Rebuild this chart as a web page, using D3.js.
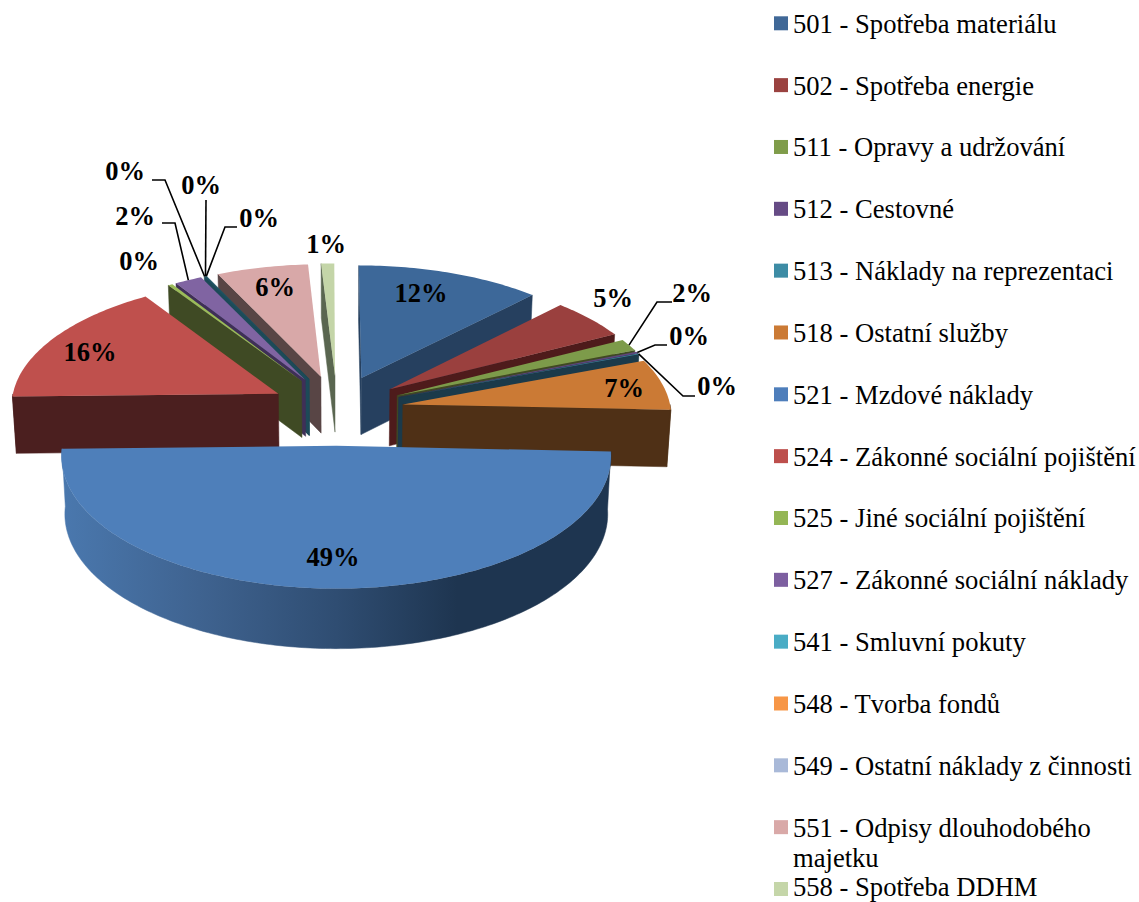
<!DOCTYPE html>
<html lang="cs">
<head>
<meta charset="utf-8">
<title>Náklady</title>
<script src="https://cdn.jsdelivr.net/npm/d3@7/dist/d3.min.js"></script>
<style>
html,body{margin:0;padding:0;background:#fff}
svg{display:block}
text{font-family:"Liberation Serif","Times New Roman",serif;fill:#000}
</style>
</head>
<body>
<svg id="chart" width="1139" height="902"></svg>
<script>
// ---- data ----
const categories = [
  "501 - Spotřeba materiálu","502 - Spotřeba energie","511 - Opravy a udržování","512 - Cestovné",
  "513 - Náklady na reprezentaci","518 - Ostatní služby","521 - Mzdové náklady","524 - Zákonné sociální pojištění",
  "525 - Jiné sociální pojištění","527 - Zákonné sociální náklady","541 - Smluvní pokuty","548 - Tvorba fondů",
  "549 - Ostatní náklady z činnosti","551 - Odpisy dlouhodobého majetku","558 - Spotřeba DDHM"];
const values = [12.2,5.2,1.52,0.2,0.1,6.52,48.96,16.15,0.3,1.8,0.05,0.05,0.05,6.04,0.86];

// ---- styles ----
const legendColors = ["#406897","#9a4240","#7f9c4a","#664b85","#3d8ca5","#cb7a35","#4e7ebb","#bd4f4c","#94b655","#7d5fa0","#4aacc5","#f79646","#a9b9d8","#d9a9a8","#c5d6a9"];
const topColors    = ["#3d6899","#9a403e","#7d9b4a","#5d4680","#3a8299","#cb7a35","#4e7fba","#bf504d","#9bbb59","#8064a2","#1f5666","#1f5666","#1f5666","#d8a8a8","#c4d5a8"];
const wallColors   = ["#26405f","#4e1b1b","#3f4a24","#33264a","#1b3a4a","#4f3016","#1e3550","#4b1f1f","#3f4a24","#3f2f57","#1d4a58","#1d4a58","#1d4a58","#584545","#5a6650"];

// ---- layout of labels ----
const labelPos = [[421,293],[613,298],[692,293],[689,336],[717,386],[624,388],[333,557],[90,352],[139,261],[135,216],[125,171],[201,185],[259,218],[275,287],[326,244]];
// leader line: start next to label, elbow; null = no leader
const leaders = [null,null,[[672,302],[657,302]],[[667,345],[655,345]],[[695,396],[683,396]],null,null,null,null,
  [[162,223],[175,223]],[[152,180],[165,180]],[[206,200],[206,200]],[[237,227],[225,227]],null,null];

const cx=337, cy=410, R=268, K=126, persp=0.077, explodeX=0.25, explodeY=0.278, D=57, taper=0.012;
const project=(u,v,z)=>{const s=1/(1+persp*v);return [cx+R*u*s*(1-taper*z), cy-K*v*s+D*z*Math.sqrt(s)];};

const svg=d3.select("#chart");
const defs=svg.append("defs");
const grad=defs.append("linearGradient").attr("id","wall521");
[[0,"#4a78ae"],[0.25,"#3f6390"],[0.5,"#2f4d72"],[0.72,"#1e3550"],[1,"#1e3550"]]
 .forEach(([o,c])=>grad.append("stop").attr("offset",o).attr("stop-color",c));

const rot=-0.2*Math.PI/180;
const arcs=d3.pie().sort(null).startAngle(rot).endAngle(rot+2*Math.PI)(values)
  .map((d,i)=>{const m=(d.startAngle+d.endAngle)/2;
    return {i,a0:d.startAngle,a1:d.endAngle,m,ou:explodeX*Math.sin(m),ov:explodeY*Math.cos(m)};});

const line=d3.line();
const pt=(d,a,r,z)=>project(d.ou+r*Math.sin(a),d.ov+r*Math.cos(a),z);
const sweep=(a,b)=>{const n=Math.max(2,Math.ceil(Math.abs(b-a)/(Math.PI/180)));return d3.range(n+1).map(k=>a+(b-a)*k/n);};

const order=arcs.slice().sort((a,b)=>Math.cos(b.m)-Math.cos(a.m));
const g=svg.append("g");
order.forEach(d=>{
  const wall=wallColors[d.i];
  const quad=a=>[pt(d,a,0,0),pt(d,a,1,0),pt(d,a,1,1),pt(d,a,0,1)];
  const draw=(pts,fill)=>g.append("path").attr("d",line(pts)+"Z").attr("fill",fill).attr("stroke",fill).attr("stroke-width",0.5);
  // radial walls facing the viewer
  if(Math.sin(d.a0)<0) draw(quad(d.a0),wall);
  if(Math.sin(d.a1)>0) draw(quad(d.a1),wall);
  // outer rim facing the viewer
  const lo=Math.max(d.a0,Math.PI/2), hi=Math.min(d.a1,3*Math.PI/2);
  if(hi>lo){
    const s=sweep(lo,hi);
    const rim=s.map(a=>pt(d,a,1,0)).concat(s.slice().reverse().map(a=>pt(d,a,1,1)));
    draw(rim,d.i===6?"url(#wall521)":wall);
  }
  // top face
  const top=[pt(d,0,0,0)].concat(sweep(d.a0,d.a1).map(a=>pt(d,a,1,0)));
  g.append("path").attr("d",line(top)+"Z").attr("fill",topColors[d.i]);
});

// leaders
arcs.forEach(d=>{
  const l=leaders[d.i]; if(!l) return;
  const end=pt(d,d.m,1,0);
  svg.append("path").attr("d",line([l[0],l[1],end])).attr("fill","none").attr("stroke","#000").attr("stroke-width",1.6);
});

// data labels
const total=d3.sum(values), pct=d3.format(".0%");
svg.append("g").selectAll("text").data(values).join("text")
  .attr("x",(d,i)=>labelPos[i][0]).attr("y",(d,i)=>labelPos[i][1])
  .attr("dy","0.33em").attr("text-anchor","middle").attr("font-size",26.5).attr("font-weight","bold")
  .text(d=>pct(d/total));

// legend
const legendY=d3.scaleLinear().domain([0,categories.length-1]).range([16.3,882]);
const leg=svg.append("g");
categories.forEach((c,i)=>{
  const y=legendY(i);
  leg.append("rect").attr("x",774).attr("y",y).attr("width",14).attr("height",14).attr("fill",legendColors[i]);
  const m=c.match(/^(.*dlouhodobého) (majetku)$/);
  const t=leg.append("text").attr("x",793).attr("y",Math.min(y+16.5,896)).attr("font-size",26.6);
  if(m){
    t.text(m[1]);
    leg.append("text").attr("x",793).attr("y",y+47).attr("font-size",26.6).text(m[2]);
  } else t.text(c);
});
</script>
</body>
</html>
